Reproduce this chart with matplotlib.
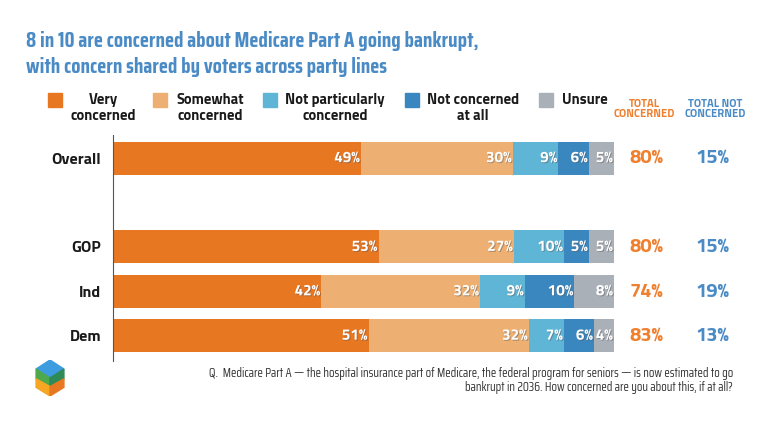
import matplotlib
matplotlib.use('Agg')
import numpy as np
from matplotlib import pyplot as plt
from matplotlib import patheffects as pe
from matplotlib.patches import Polygon

plt.rcParams['font.family'] = ['Titillium Web', 'DejaVu Sans']
title_font = ['Saira Condensed', 'DejaVu Sans']
note_font = ['Saira Condensed', 'DejaVu Sans']

groups = ['Overall', 'GOP', 'Ind', 'Dem']
positions = [0, 2, 3, 4]
series_names = ['Very\nconcerned', 'Somewhat\nconcerned', 'Not particularly\nconcerned',
                'Not concerned\nat all', 'Unsure']
very = [49, 53, 42, 51]
somewhat = [30, 27, 32, 32]
not_particularly = [9, 10, 9, 7]
not_at_all = [6, 5, 10, 6]
unsure = [5, 5, 8, 4]
total_concerned = [80, 80, 74, 83]
total_not_concerned = [15, 15, 19, 13]

colors = ['#E87722', '#EEB072', '#5EB5D6', '#3A87C0', '#AAB0B8']
blue_title = '#4A8BC6'
orange_total = '#F07F2E'

W, H = 768, 428
fig = plt.figure(figsize=(W / 100, H / 100), dpi=100)

# main axes: x 113..614 px, y 135..361 px
ax = fig.add_axes([113 / W, 1 - 361 / H, 501 / W, 226 / H])

data = np.array([very, somewhat, not_particularly, not_at_all, unsure], dtype=float)
scaled = data / data.sum(axis=0) * 100
left = np.zeros(len(groups))
shadow = [pe.withSimplePatchShadow(offset=(0.7, -0.7), shadow_rgbFace='#555555', alpha=0.45)]
for i in range(len(series_names)):
	ax.barh(positions, scaled[i], left=left, height=0.74, color=colors[i], edgecolor='none')
	for j, p in enumerate(positions):
		end = left[j] + scaled[i][j]
		ax.text(end - 0.2, p, f'{int(data[i][j])}%', ha='right', va='center', color='white',
		        fontsize=11, fontweight='bold', path_effects=shadow)
	left += scaled[i]

ax.set_xlim(0, 100)
ax.set_ylim(4.57, -0.52)
ax.set_yticks(positions)
ax.set_yticklabels(groups, fontsize=11.5, fontweight='bold', color='#1a1a1a')
ax.tick_params(axis='y', length=0, pad=8.6)
ax.set_xticks([])
for s in ['top', 'right', 'bottom']:
	ax.spines[s].set_visible(False)
ax.spines['left'].set_color('#555555')
ax.spines['left'].set_linewidth(0.8)

# totals columns
for j, p in enumerate(positions):
	ax.text(106.4, p, f'{total_concerned[j]}%', ha='center', va='center', color=orange_total,
	        fontsize=14.5, fontweight='bold')
	ax.text(119.6, p, f'{total_not_concerned[j]}%', ha='center', va='center', color=blue_title,
	        fontsize=14.5, fontweight='bold')

# title
fig.text(26 / W, 1 - 41 / H, '8 in 10 are concerned about Medicare Part A going bankrupt,',
         family=title_font, fontsize=15.2, fontweight='bold', color=blue_title, va='center')
fig.text(26 / W, 1 - 67 / H, 'with concern shared by voters across party lines',
         family=title_font, fontsize=15.2, fontweight='bold', color=blue_title, va='center')

# legend
sq_x = [48, 153, 263, 405, 539]
txt_x = [103, 210, 335, 473, 562]
for i, name in enumerate(series_names):
	fig.patches.append(plt.Rectangle((sq_x[i] / W, 1 - 107 / H), 14 / W, 14 / H,
	                                 transform=fig.transFigure, color=colors[i]))
	if i == 4:
		fig.text(txt_x[i] / W, 1 - 100 / H, name, ha='left', va='center', fontsize=10.5,
		         fontweight='bold', color='#1a1a1a')
	else:
		fig.text(txt_x[i] / W, 1 - 108 / H, name, ha='center', va='center', fontsize=10.5,
		         fontweight='bold', color='#1a1a1a', linespacing=1.1)
fig.text(644 / W, 1 - 109 / H, 'TOTAL\nCONCERNED', ha='center', va='center', fontsize=8,
         fontweight='bold', color=orange_total, linespacing=0.95)
fig.text(715 / W, 1 - 109 / H, 'TOTAL NOT\nCONCERNED', ha='center', va='center', fontsize=8,
         fontweight='bold', color=blue_title, linespacing=0.95)

# footnote
fig.text(733 / W, 1 - 381 / H,
         'Q.  Medicare Part A \u2014 the hospital insurance part of Medicare, the federal program for seniors \u2014 is now estimated to go\n'
         'bankrupt in 2036. How concerned are you about this, if at all?',
         family=note_font, ha='right', va='center', fontsize=9, color='#333333', linespacing=1.1)

# logo
lax = fig.add_axes([34 / W, 1 - 396 / H, 32 / W, 36 / H])
lax.set_xlim(-1, 1)
lax.set_ylim(-1.15, 1.15)
lax.axis('off')
c, s = 0.87, 0.5
lax.add_patch(Polygon([(0, 1.15), (c, s + 0.075), (0, 0.0), (-c, s + 0.075)], color='#3D9BE0'))
lax.add_patch(Polygon([(-c, s + 0.075), (0, 0.0), (0, -0.55), (-c, -0.05)], color='#4EA84C'))
lax.add_patch(Polygon([(c, s + 0.075), (0, 0.0), (0, -0.55), (c, -0.05)], color='#2E8B57'))
lax.add_patch(Polygon([(-c, -0.05), (0, -0.55), (0, -1.15), (-c, -0.6)], color='#F5A623'))
lax.add_patch(Polygon([(c, -0.05), (0, -0.55), (0, -1.15), (c, -0.6)], color='#E87722'))

fig.savefig('out.png', dpi=100)
